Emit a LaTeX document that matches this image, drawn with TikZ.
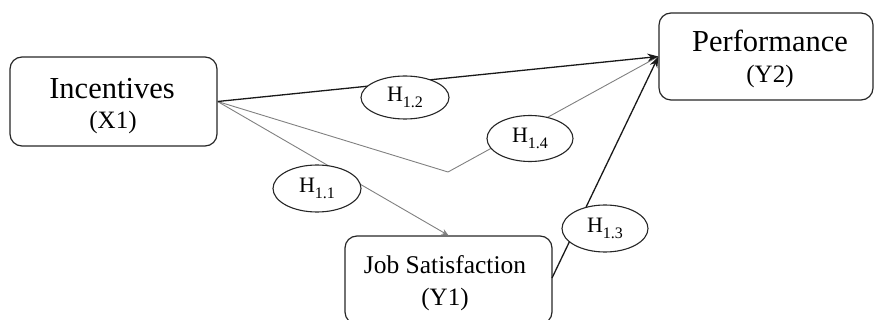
\documentclass[tikz,border=0pt]{standalone}
\usepackage{fontspec}
\setmainfont{Liberation Serif}
\usetikzlibrary{shapes.geometric,arrows.meta}
\newcommand{\hyp}[1]{H\raisebox{-6pt}{\fontsize{16}{16}\selectfont #1}}
\begin{document}
\begin{tikzpicture}[x=1pt,y=-1pt,
  box/.style={draw=black!85,line width=1.2pt,rounded corners=12pt,inner sep=0pt},
  big/.style={anchor=base,inner sep=0pt,font=\rmfamily\fontsize{30.5}{30.5}\selectfont},
  mid/.style={anchor=base,inner sep=0pt,font=\rmfamily\fontsize{25.5}{25.5}\selectfont},
  small/.style={anchor=base,inner sep=0pt,font=\rmfamily\fontsize{25}{25}\selectfont},
  hyp/.style={ellipse,draw=black!85,line width=1.1pt,fill=white,inner sep=0pt,
    minimum width=88pt,minimum height=44pt,font=\rmfamily\fontsize{22}{22}\selectfont},
  strong/.style={draw=black!90,line width=1.3pt},
  thin/.style={draw=black!50,line width=0.9pt}]
\useasboundingbox (0,0) rectangle (874,320);
\clip (0,0) rectangle (874,320);
% boxes
\node[box,minimum width=207pt,minimum height=89pt] (inc) at (113.5,101.5) {};
\node[box,minimum width=214pt,minimum height=87pt] (perf) at (766,56.5) {};
\node[box,minimum width=207pt,minimum height=88pt] (js) at (448.5,280) {};
% texts
\node[big] (inct) at (112,99) {Incentives};
\node[small] (incs) at (113,129) {(X1)};
\node[big] (perft) at (770,52) {Performance};
\node[small] (perfs) at (770,83) {(Y2)};
\node[mid] (jst) at (445,273) {Job Satisfaction};
\node[small] (jss) at (445,305) {(Y1)};
% connectors
\coordinate (bend) at (448,172);
\coordinate (jsout) at (552,278);
\draw[thin] (inc.east) -- (bend) -- (perf.west);
\draw[thin,-{Stealth[length=7pt,width=6pt]}] (inc.east) -- (js.north);
\draw[strong,-{Stealth[length=11pt,width=8pt]}] (inc.east) -- (perf.west);
\draw[strong,-{Stealth[length=11pt,width=8pt]}] (jsout) -- (perf.west);
% hypothesis labels
\node[hyp,minimum height=43pt] (h12) at (405,97.5) {\hyp{1.2}};
\node[hyp,minimum height=46pt,minimum width=86pt] (h14) at (530,138.5) {\hyp{1.4}};
\node[hyp,minimum height=47pt] (h11) at (317,188.5) {\hyp{1.1}};
\node[hyp,minimum height=47pt,minimum width=86pt] (h13) at (605,228.5) {\hyp{1.3}};
\end{tikzpicture}
\end{document}
